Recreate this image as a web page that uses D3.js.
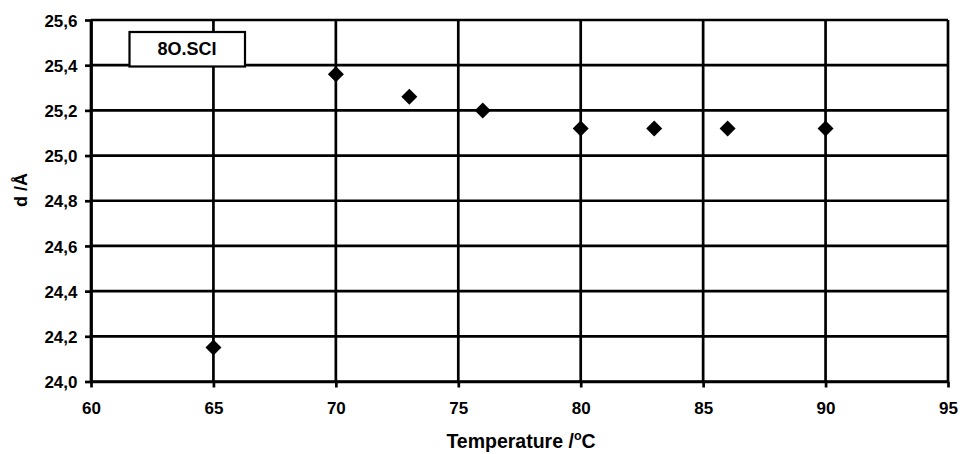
<!DOCTYPE html>
<html><head><meta charset="utf-8">
<script src="https://cdn.jsdelivr.net/npm/d3@7/dist/d3.min.js"></script>
<style>body{margin:0;background:#fff}svg{display:block}text{font-family:"Liberation Sans",Arial,sans-serif;font-weight:bold}</style>
</head><body><svg id="c" width="960" height="454"></svg>
<script>
const temps = [65, 70, 73, 76, 80, 83, 86, 90];
const dValues = [24.15, 25.36, 25.26, 25.20, 25.12, 25.12, 25.12, 25.12];
const xTicks = [60, 65, 70, 75, 80, 85, 90, 95];
const yTicks = [24.0, 24.2, 24.4, 24.6, 24.8, 25.0, 25.2, 25.4, 25.6];
const seriesName = "8O.SCI";

const svg = d3.select("#c");
const L = 91, R = 948, T = 20, B = 381.5;
const x = d3.scaleLinear().domain([60, 95]).range([L, R]);
const y = d3.scaleLinear().domain([24.0, 25.6]).range([B, T]);
const fmt = d => d.toFixed(1).replace(".", ",");

// grid
svg.append("g").selectAll("line").data(yTicks).join("line")
  .attr("x1", L).attr("x2", R).attr("y1", d => y(d)).attr("y2", d => y(d))
  .attr("stroke", "#000").attr("stroke-width", 2.7);
svg.append("g").selectAll("line").data(xTicks).join("line")
  .attr("y1", T).attr("y2", B).attr("x1", d => x(d)).attr("x2", d => x(d))
  .attr("stroke", "#000").attr("stroke-width", 2.7);

const gx = svg.append("g").attr("transform", `translate(0,${B})`)
  .call(d3.axisBottom(x).tickValues(xTicks).tickSize(6).tickPadding(14.5).tickSizeOuter(0));
const gy = svg.append("g").attr("transform", `translate(${L},0)`)
  .call(d3.axisLeft(y).tickValues(yTicks).tickFormat(fmt).tickSize(6).tickPadding(7.5).tickSizeOuter(0));
[gx, gy].forEach(g => {
  g.select(".domain").attr("stroke", "#000").attr("stroke-width", 2.7);
  g.selectAll(".tick line").attr("stroke", "#000").attr("stroke-width", 2.7);
  g.selectAll(".tick text").attr("fill", "#000").style("font-size", "17px")
   .style("font-family", '"Liberation Sans",Arial,sans-serif').style("font-weight", "bold");
});
gy.selectAll(".tick text").attr("dy", "0.36em");

// points
svg.append("g").selectAll("path").data(temps).join("path")
  .attr("transform", (d, i) => `translate(${x(d)},${y(dValues[i])})`)
  .attr("d", "M0,-8L8,0L0,8L-8,0Z").attr("fill", "#000");

// legend box
svg.append("rect").attr("x", 129.5).attr("y", 32).attr("width", 115.5).attr("height", 34.5)
  .attr("fill", "#fff").attr("stroke", "#000").attr("stroke-width", 2.2);
svg.append("text").attr("x", 187).attr("y", 54.5).attr("text-anchor", "middle")
  .style("font-size", "18px").text(seriesName);

// axis titles
svg.append("text").attr("transform", "translate(27,190) rotate(-90)").attr("text-anchor", "middle")
  .style("font-size", "18px").text("d /Å");
const xt = svg.append("text").attr("x", 521).attr("y", 448).attr("text-anchor", "middle").style("font-size", "19.5px");
xt.append("tspan").text("Temperature /");
xt.append("tspan").attr("dy", -8).style("font-size", "12.5px").text("o");
xt.append("tspan").attr("dy", 8).text("C");
</script></body></html>
